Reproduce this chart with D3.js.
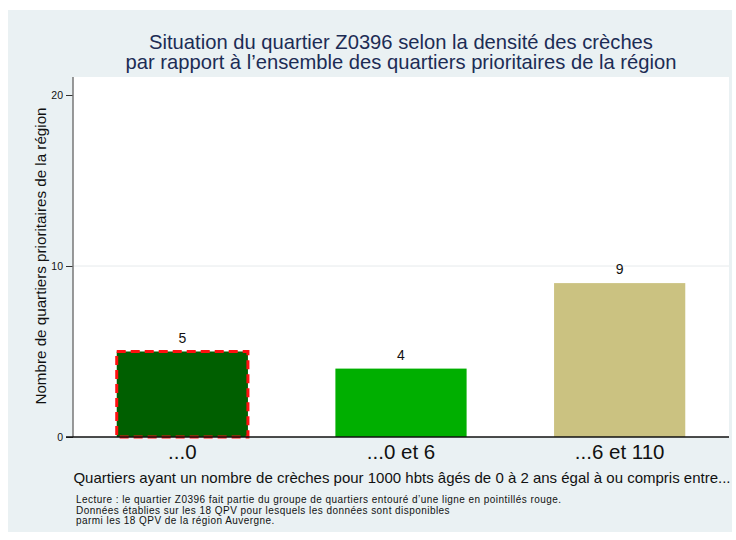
<!DOCTYPE html>
<meta charset="UTF-8">
<style>
    body { margin: 0; background: #fff; }
    text { font-family: "Liberation Sans", Arial, sans-serif; }
</style>
<svg width="736" height="540"></svg>
<script src="https://d3js.org/d3.v7.min.js"></script>
<script>

var categories = ["...0", "...0 et 6", "...6 et 110"];
var counts = [5, 4, 9];
var barColors = ["#005f00", "#00af00", "#cbc281"];
var highlighted = 0;   // group containing Z0396
var yTicks = [0, 10, 20];

var title = ["Situation du quartier Z0396 selon la densité des crèches",
             "par rapport à l’ensemble des quartiers prioritaires de la région"];
var yTitle = "Nombre de quartiers prioritaires de la région";
var xTitle = "Quartiers ayant un nombre de crèches pour 1000 hbts âgés de 0 à 2 ans égal à ou compris entre...";
var notes = ["Lecture : le quartier Z0396 fait partie du groupe de quartiers entouré d’une ligne en pointillés rouge.",
             "Données établies sur les 18 QPV pour lesquels les données sont disponibles",
             "parmi les 18 QPV de la région Auvergne."];

var svg = d3.select("svg");

// grey panel + white plot region
svg.append("rect").attr("x", 8).attr("y", 10).attr("width", 724).attr("height", 522).attr("fill", "#eaf1f3");

var plot = {left: 73, right: 729, top: 77, bottom: 437};
svg.append("rect")
    .attr("x", plot.left).attr("y", plot.top)
    .attr("width", plot.right - plot.left).attr("height", plot.bottom - plot.top)
    .attr("fill", "#fff");

var x = d3.scaleBand().domain(categories).range([plot.left, plot.right]).paddingInner(0.4).paddingOuter(0.2);
var y = d3.scaleLinear().domain([0, 10]).range([plot.bottom, 266]);

// gridline
svg.append("line")
    .attr("x1", plot.left).attr("x2", plot.right)
    .attr("y1", y(10)).attr("y2", y(10))
    .attr("stroke", "#e6eaec").attr("stroke-width", 1);

// y axis
var yAxis = svg.append("g")
    .attr("transform", "translate(" + plot.left + ",0)")
    .call(d3.axisLeft(y).tickValues(yTicks).tickSize(7).tickPadding(3));
yAxis.select(".domain").remove();
yAxis.selectAll("line").attr("stroke", "#333");
yAxis.selectAll("text").attr("font-size", 10.5).attr("fill", "#111");
svg.append("line")
    .attr("x1", plot.left).attr("x2", plot.left)
    .attr("y1", plot.top).attr("y2", plot.bottom)
    .attr("stroke", "#777").attr("stroke-width", 1.5);

svg.append("text")
    .attr("transform", "translate(41,256) rotate(-90)")
    .attr("text-anchor", "middle")
    .attr("dy", "0.35em")
    .attr("font-size", 15.2)
    .attr("fill", "#111")
    .text(yTitle);

// bars
var data = categories.map(function(c, i) { return {cat: c, n: counts[i], color: barColors[i]}; });

svg.selectAll(".bar")
    .data(data)
    .enter().append("rect")
    .attr("class", "bar")
    .attr("x", function(d) { return x(d.cat); })
    .attr("y", function(d) { return y(d.n); })
    .attr("width", x.bandwidth())
    .attr("height", function(d) { return y(0) - y(d.n); })
    .attr("fill", function(d) { return d.color; })
    .attr("stroke", function(d, i) { return i === highlighted ? "#ff1010" : "none"; })
    .attr("stroke-width", 3)
    .attr("stroke-dasharray", "9,5");

svg.selectAll(".val")
    .data(data)
    .enter().append("text")
    .attr("class", "val")
    .attr("x", function(d) { return x(d.cat) + x.bandwidth() / 2; })
    .attr("y", function(d) { return y(d.n) - 9; })
    .attr("text-anchor", "middle")
    .attr("font-size", 14)
    .attr("fill", "#111")
    .text(function(d) { return d.n; });

// x axis
var xAxis = svg.append("g")
    .attr("transform", "translate(0," + plot.bottom + ")")
    .call(d3.axisBottom(x).tickSize(0).tickPadding(0));
xAxis.select(".domain").remove();
xAxis.selectAll("text").attr("font-size", 20.5).attr("fill", "#111").attr("y", 22).attr("dy", 0);
svg.append("line")
    .attr("x1", 66).attr("x2", plot.right)
    .attr("y1", plot.bottom).attr("y2", plot.bottom)
    .attr("stroke", "#111").attr("stroke-width", 1.5);

svg.append("text")
    .attr("x", (plot.left + plot.right) / 2 + 1).attr("y", 483)
    .attr("text-anchor", "middle")
    .attr("font-size", 15)
    .attr("fill", "#111")
    .text(xTitle);

// title
svg.selectAll(".title")
    .data(title)
    .enter().append("text")
    .attr("class", "title")
    .attr("x", 401)
    .attr("y", function(d, i) { return 48.5 + i * 20.5; })
    .attr("text-anchor", "middle")
    .attr("font-size", 20.2)
    .attr("fill", "#1c2c55")
    .text(function(d) { return d; });

// notes
svg.selectAll(".note")
    .data(notes)
    .enter().append("text")
    .attr("class", "note")
    .attr("x", 76)
    .attr("y", function(d, i) { return 503 + i * 10.5; })
    .attr("font-size", 10)
    .attr("letter-spacing", 0.45)
    .attr("fill", "#111")
    .text(function(d) { return d; });

</script>
